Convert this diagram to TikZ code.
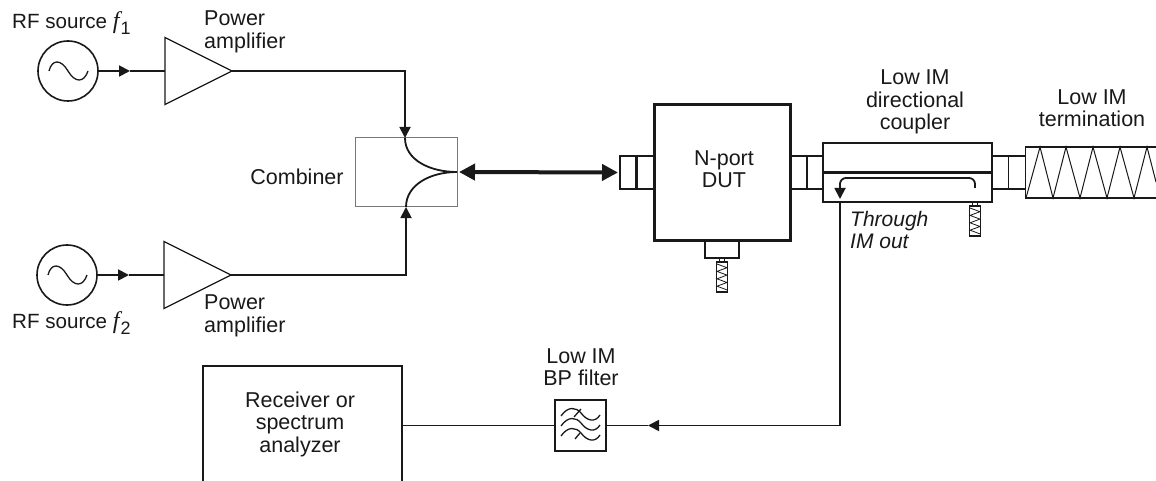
\documentclass[tikz,border=0pt]{standalone}
\usepackage{fontspec}
\setmainfont{Liberation Sans}
\newfontfamily\ffont{Liberation Serif}
\usepackage{xcolor}
\usetikzlibrary{arrows.meta,calc,shapes.geometric}
\definecolor{ink}{RGB}{25,25,25}
\definecolor{rimgray}{RGB}{120,120,120}
\tikzset{
  wire/.style={draw=ink,line width=1.8pt},
  tip/.style={-{Triangle[length=11pt,width=11pt]}},
  txt/.style={font=\fontsize{21.5}{22.5}\selectfont,text=ink,align=center,inner sep=0pt},
  box/.style={draw=ink,line width=1.6pt,inner sep=0pt,outer sep=0pt},
  thick box/.style={box,line width=3pt},
  thin box/.style={box,line width=1.2pt},
  amp/.style={box,line width=1.3pt,shape=isosceles triangle,isosceles triangle stretches,
    minimum width=67pt,minimum height=67pt,anchor=west},
}
\newcommand{\smallload}[3]{% x y name
  \node[thin box,minimum width=5pt,minimum height=4pt] (#3cap) at (#1,#2+2) {};
  \node[thin box,minimum width=11pt,minimum height=30pt,anchor=north] (#3) at (#1,#2+4) {};
  \draw[ink,line width=.8pt] (#1-5,#2+6)
    \foreach \i/\s in {1/1,2/-1,3/1,4/-1,5/1,6/-1,7/1}{ -- (#1+5*\s,#2+6+\i*3.7) };
}
\newcommand{\rfsub}[1]{{\ffont\itshape\fontsize{24}{24}\selectfont f}\kern1pt\raisebox{-6pt}{\fontsize{18}{18}\selectfont #1}}
\begin{document}
\begin{tikzpicture}[x=1pt,y=-1pt]
  \useasboundingbox (0,0) rectangle (1156,481);
  % sources and amplifiers
  \foreach \name/\sx/\ax/\y in {A/68/165/71,B/67/164/275}{
    \node[box,circle,minimum size=60pt] (src\name) at (\sx,\y) {};
    \draw[ink,line width=1.3pt] (\sx-19,\y) .. controls (\sx-16,\y-12) and (\sx-7,\y-12) .. (\sx,\y)
      .. controls (\sx+7,\y+12) and (\sx+16,\y+12) .. (\sx+20,\y);
    \node[amp] (amp\name) at (\ax,\y) {};
    \coordinate (mid\name) at (\sx+62,\y);
    \draw[wire,tip] (src\name) -- (mid\name);
    \draw[wire] (mid\name) -- (amp\name.west);
  }
  \node[txt,anchor=west,font=\fontsize{20.6}{22}\selectfont] (lblsrcA) at (12,23) {RF source \rfsub{1}};
  \node[txt,anchor=west,font=\fontsize{20.6}{22}\selectfont] (lblsrcB) at (12,323) {RF source \rfsub{2}};
  \node[txt,align=left,anchor=west] (lblampA) at (204,32) {Power\\amplifier};
  \node[txt,align=left,anchor=west] (lblampB) at (204,316) {Power\\amplifier};
  % combiner
  \node[draw=rimgray,line width=1pt,minimum width=102pt,minimum height=69pt,inner sep=0pt] (comb) at (406,172.5) {};
  \node[txt] (lblcomb) at (297,177) {Combiner};
  \coordinate (combtop) at (405,138);
  \coordinate (combbot) at (406,207);
  \coordinate (combout) at (457,172);
  \draw[wire,tip] (ampA.apex) -| (combtop);
  \draw[wire,tip] (ampB.apex) -| (combbot);
  \draw[wire] (combtop) .. controls (405,160) and (430,172) .. (combout);
  \draw[wire] (combbot) .. controls (406,185) and (430,172) .. (combout);
  % DUT
  \node[thick box,minimum width=136pt,minimum height=135pt] (dut) at (722,172.5) {};
  \node[txt] (lbldut) at (724,169) {N-port\\DUT};
  \node[thick box,line width=2.4pt,minimum width=17.5pt,minimum height=33pt,anchor=east] (portL) at (dut.west) {};
  \node[thin box,minimum width=16.5pt,minimum height=33pt,anchor=east] (portLo) at (portL.west) {};
  \node[thick box,line width=2.4pt,minimum width=17pt,minimum height=33pt,anchor=west] (portR) at (dut.east) {};
  \node[thin box,minimum width=16pt,minimum height=33pt,anchor=west] (portRo) at (portR.east) {};
  \node[thick box,line width=2.4pt,minimum width=34pt,minimum height=18pt,anchor=north] (portB) at (dut.south) {};
  \smallload{722}{258}{loadB}
  \draw[ink,line width=4pt,{Triangle[length=16pt,width=16pt]}-{Triangle[length=16pt,width=16pt]}]
    ($(combout)+(2,0)$) -- ($(portLo.west)+(-2,0)$);
  % coupler
  \node[box,minimum width=169pt,minimum height=59pt] (coup) at (907.5,172.5) {};
  \draw[ink,line width=3pt] (coup.west) -- (coup.east);
  \node[txt] (lblcoup) at (915,102) {Low IM\\directional\\coupler};
  \coordinate (tap) at (840,202);
  \draw[wire,tip,rounded corners=6pt] (975,188) -- (975,178) -- (840,178) -- (840,199);
  \smallload{975}{202}{loadC}
  \node[txt,align=left,anchor=west,font=\fontsize{21}{22}\selectfont\itshape] (lblim) at (850,230) {Through\\IM out};
  % termination
  \node[box,minimum width=16.5pt,minimum height=33pt,anchor=west] (portT) at (coup.east) {};
  \node[box,minimum width=17pt,minimum height=33pt,anchor=west] (portTo) at (portT.east) {};
  \node[minimum width=130.5pt,minimum height=51pt,inner sep=0pt,outer sep=0pt] (term) at (1090.75,172.5) {};
  \draw[wire] (term.north east) -- (term.north west) -- (term.south west) -- (term.south east);
  \draw[ink,line width=1pt] (1026,198) \foreach \tx/\bx in {1040/1053,1066/1080,1093/1107,1120/1134}{ -- (\tx,147) -- (\bx,198) } -- (1147,147) -- (1156,182);
  \node[txt] (lblterm) at (1092,108) {Low IM\\termination};
  % filter and receiver
  \node[box,minimum width=51pt,minimum height=51pt] (filt) at (580.5,425.5) {};
  \foreach \d in {0,10,20}{
    \draw[ink,line width=1.3pt] (561,416+\d) .. controls (568,406+\d) and (576,407+\d) .. (581,413+\d)
      .. controls (587,421+\d) and (595,423+\d) .. (600,415+\d);
  }
  \draw[ink,line width=1.3pt] (574,417) -- (581,409);
  \draw[ink,line width=1.3pt] (575,439) -- (580,433);
  \node[txt] (lblfilt) at (581,367) {Low IM\\BP filter};
  \node[minimum width=199pt,minimum height=115pt,inner sep=0pt,outer sep=0pt] (rcv) at (302.5,423.5) {};
  \node[txt] (lblrcv) at (300,424) {Receiver or\\spectrum\\analyzer};
  \draw[wire] (rcv.south west) -- (rcv.north west) -- (rcv.north east) -- (rcv.south east);
  \coordinate (bend) at (tap |- filt.east);
  \coordinate (filttip) at (648,425.5);
  \draw[wire,tip] (tap) -- (bend) -- (filttip);
  \draw[wire] (filttip) -- (filt.east);
  \draw[wire] (filt.west) -- (rcv.east |- filt.west);
\end{tikzpicture}
\end{document}
